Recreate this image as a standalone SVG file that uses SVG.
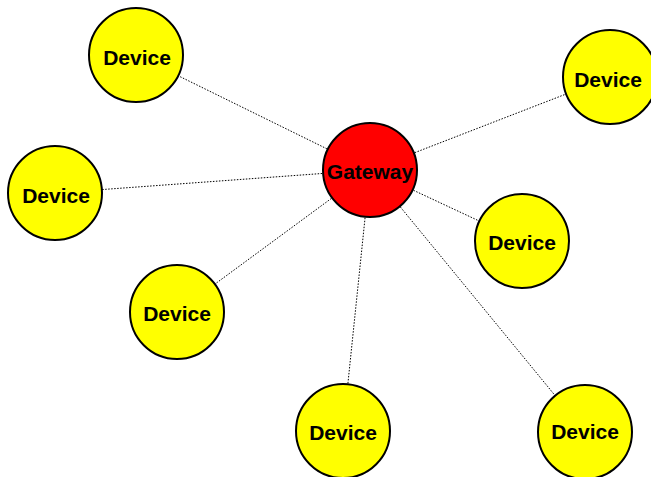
<svg xmlns="http://www.w3.org/2000/svg" width="651" height="477" viewBox="0 0 651 477">
<style>
.link{stroke:#000;stroke-width:1;stroke-dasharray:1.5,1.5;fill:none}
.dev{fill:#ffff00;stroke:#000;stroke-width:2}
.gw{fill:#ff0000;stroke:#000;stroke-width:2}
.lbl{font-family:"Liberation Sans",Arial,sans-serif;font-weight:bold;font-size:21px;text-anchor:middle;dominant-baseline:central;fill:#000}
</style>
<rect width="651" height="477" fill="#fff"/>
<g id="connectors">
<line class="link" x1="370" y1="170" x2="136" y2="55"/>
<line class="link" x1="370" y1="170" x2="610" y2="77"/>
<line class="link" x1="370" y1="170" x2="55" y2="193"/>
<line class="link" x1="370" y1="170" x2="522" y2="241"/>
<line class="link" x1="370" y1="170" x2="177" y2="312"/>
<line class="link" x1="370" y1="170" x2="343" y2="431"/>
<line class="link" x1="370" y1="170" x2="585" y2="432"/>
</g>
<g id="gateway"><circle class="gw" cx="370" cy="170" r="47"/><text class="lbl" x="370" y="171" font-size="22">Gateway</text></g>
<g id="device1"><circle class="dev" cx="136" cy="55" r="47"/><text class="lbl" x="137" y="57">Device</text></g>
<g id="device2"><circle class="dev" cx="610" cy="77" r="47"/><text class="lbl" x="608" y="79">Device</text></g>
<g id="device3"><circle class="dev" cx="55" cy="193" r="47"/><text class="lbl" x="56" y="195">Device</text></g>
<g id="device4"><circle class="dev" cx="522" cy="241" r="47"/><text class="lbl" x="522" y="242">Device</text></g>
<g id="device5"><circle class="dev" cx="177" cy="312" r="47"/><text class="lbl" x="177" y="313">Device</text></g>
<g id="device6"><circle class="dev" cx="343" cy="431" r="47"/><text class="lbl" x="343" y="432">Device</text></g>
<g id="device7"><circle class="dev" cx="585" cy="432" r="47"/><text class="lbl" x="585" y="431">Device</text></g>
</svg>
